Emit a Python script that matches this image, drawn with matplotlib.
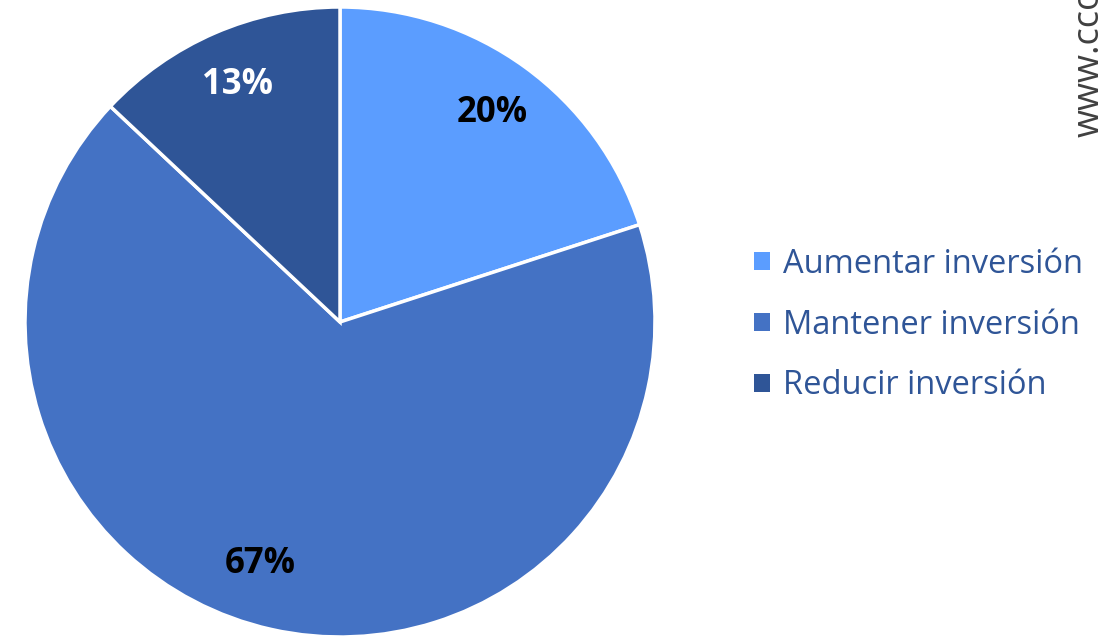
import matplotlib
matplotlib.use("Agg")
import matplotlib.pyplot as plt
import numpy as np

# data
categorias = ['Aumentar inversión', 'Mantener inversión', 'Reducir inversión']
porcentajes = [20, 67, 13]
colores = ['#5B9DFF', '#4472C4', '#2F5597']
color_etiqueta = ['black', 'black', 'white']

plt.rcParams['font.family'] = ['Open Sans', 'DejaVu Sans']

fig = plt.figure(figsize=(11.15, 6.37), dpi=100)
# pie centre ~ (340, 322) px, radius ~315 px
ax = fig.add_axes([25 / 1115, 0 / 637, 630 / 1115, 630 / 637])

wedges, texts, autotexts = ax.pie(
    porcentajes, colors=colores, startangle=90, counterclock=False,
    autopct='%1.0f%%', pctdistance=0.82,
    wedgeprops=dict(edgecolor='white', linewidth=2.5),
    textprops=dict(fontsize=25, fontweight='bold'))
ax.set_xlim(-1, 1)
ax.set_ylim(-1, 1)
ax.set_aspect('equal')

for t, c in zip(autotexts, color_etiqueta):
    t.set_color(c)

# Excel placed the 67% label a bit further left than the wedge middle
ang = np.deg2rad(251.8)
autotexts[1].set_position((0.81 * np.cos(ang), 0.81 * np.sin(ang)))

leg = fig.legend(wedges, categorias, loc='center left',
                 bbox_to_anchor=(754 / 1115, 1 - 325 / 637),
                 frameon=False, fontsize=23.5, labelcolor='#2F5597',
                 handlelength=0.48, handleheight=0.48, handletextpad=0.4,
                 labelspacing=0.85, borderaxespad=0, borderpad=0)
for h in leg.legend_handles:
    h.set_edgecolor('none')

fig.text(1090 / 1115, 1 - 137 / 637, 'www.ccoo.es', rotation=90,
         ha='center', va='bottom', fontsize=26, color='#404040')

fig.savefig('out.png', dpi=100)
